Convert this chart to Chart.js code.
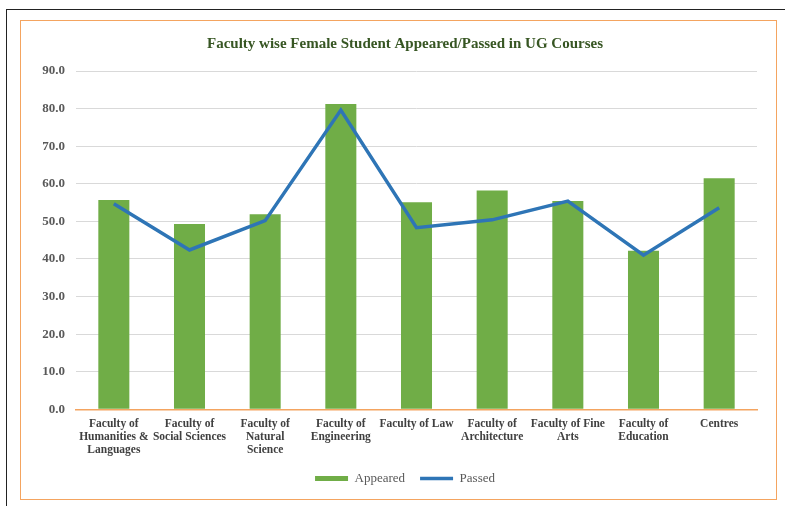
<!DOCTYPE html>
<html>
<head>
<meta charset="utf-8">
<script src="https://cdn.jsdelivr.net/npm/chart.js@4/dist/chart.umd.min.js"></script>
<style>
  html, body { margin: 0; padding: 0; background: #fff; }
  #frame { position: absolute; left: 6px; top: 9px; width: 790px; height: 510px;
           border-top: 1.5px solid #222; border-left: 1.5px solid #222; }
  #box { position: absolute; left: 20px; top: 20px; width: 755px; height: 478px;
         border: 1.5px solid #f4a460; }
  canvas { display: block; }
</style>
</head>
<body>
<div id="frame"></div>
<div id="box"><canvas id="chart" width="755" height="478"></canvas></div>
<script>
// Categorias (eje X), cada una partida en lineas como en el original
const facultades = [
    ["Faculty of", "Humanities &", "Languages"],
    ["Faculty of", "Social Sciences"],
    ["Faculty of", "Natural", "Science"],
    ["Faculty of", "Engineering"],
    ["Faculty of Law"],
    ["Faculty of", "Architecture"],
    ["Faculty of Fine", "Arts"],
    ["Faculty of", "Education"],
    ["Centres"]
];

// Valores (%)
const appeared = [55.7, 49.3, 51.9, 81.2, 55.1, 58.2, 55.4, 42.2, 61.5];
const passed = [54.7, 42.4, 50.2, 79.6, 48.3, 50.4, 55.4, 41.0, 53.6];

const yMax = 90;
const yStep = 10;

const serif = "'Liberation Serif', 'Times New Roman', serif";

const ctx = document.getElementById("chart").getContext("2d");
const grafica = new Chart(ctx, {
    type: "bar",
    data: {
        labels: facultades,
        datasets: [{
            label: "Appeared",
            data: appeared,
            backgroundColor: "#70ad47",
            borderWidth: 0,
            barPercentage: 0.41,
            categoryPercentage: 1,
            pointStyle: "rect",
            order: 1
        }, {
            type: "line",
            label: "Passed",
            data: passed,
            borderColor: "#2e75b6",
            borderWidth: 3.5,
            pointRadius: 0,
            pointStyle: "line",
            tension: 0,
            fill: false,
            order: 0
        }]
    },
    options: {
        responsive: false,
        animation: false,
        // padding izq/der distinto para que la leyenda quede corrida como en el original
        layout: { padding: { left: 13, right: 0, top: 8, bottom: 4 } },
        plugins: {
            title: {
                display: true,
                text: "Faculty wise Female Student Appeared/Passed in UG Courses",
                color: "#375623",
                font: { family: serif, size: 15, weight: "bold" },
                padding: { top: 6, bottom: 18 }
            },
            legend: {
                position: "bottom",
                labels: {
                    usePointStyle: true,
                    pointStyleWidth: 33,
                    boxHeight: 5,
                    color: "#595959",
                    font: { family: serif, size: 13 },
                    padding: 15,
                    sort: (a, b) => a.datasetIndex - b.datasetIndex
                }
            },
            tooltip: { enabled: false }
        },
        scales: {
            x: {
                grid: { display: false },
                border: { color: "#f4a460", width: 1.5 },
                ticks: {
                    color: "#404040",
                    font: { family: serif, size: 11.5, weight: "bold", lineHeight: 1.15 },
                    maxRotation: 0,
                    autoSkip: false,
                    padding: 0
                }
            },
            y: {
                min: 0,
                max: yMax,
                afterFit: (scale) => { scale.width = 42; },
                grid: { color: "#d9d9d9", lineWidth: 1, drawTicks: false },
                border: { display: false },
                ticks: {
                    stepSize: yStep,
                    padding: 11,
                    color: "#595959",
                    font: { family: serif, size: 13, weight: "bold" },
                    callback: (v) => v.toFixed(1)
                }
            },
            // eje vacio a la derecha, solo deja el margen
            yDer: {
                position: "right",
                min: 0,
                max: yMax,
                afterFit: (scale) => { scale.width = 19; },
                grid: { drawOnChartArea: false, drawTicks: false },
                border: { display: false },
                ticks: { display: false }
            }
        }
    }
});
</script>
</body>
</html>
